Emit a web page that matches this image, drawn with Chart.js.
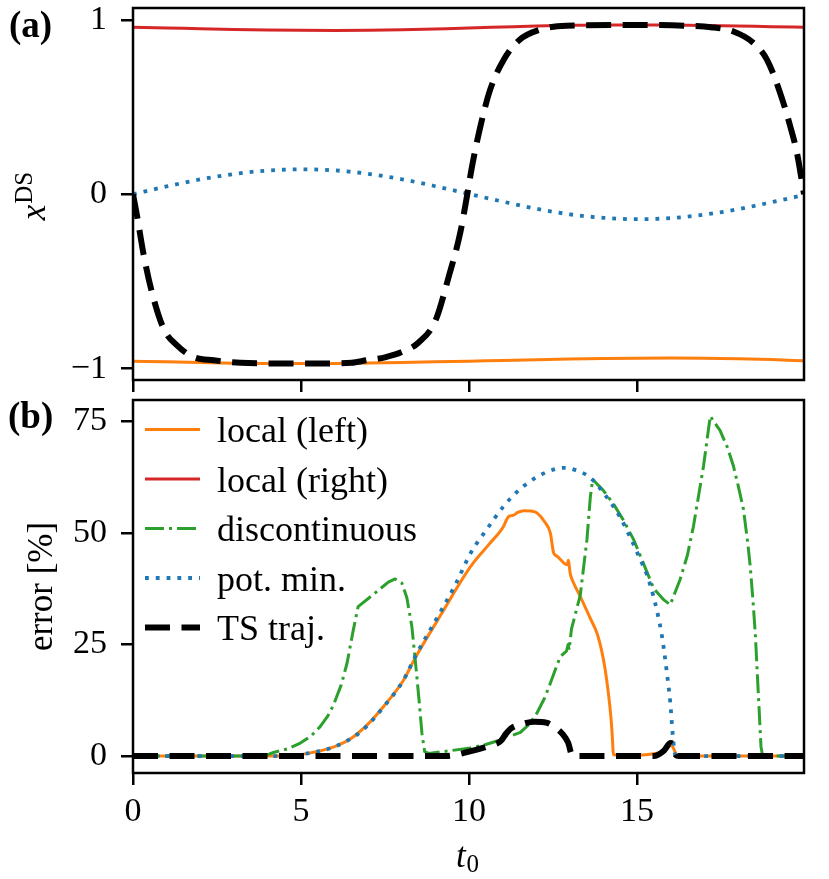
<!DOCTYPE html>
<html>
<head>
<meta charset="utf-8">
<title>x^DS and error vs t0</title>
<script src="https://cdn.jsdelivr.net/npm/chart.js@4.4.1/dist/chart.umd.min.js"></script>
<style>
    html, body { margin: 0; padding: 0; background: #fff; }
    #wrap { position: relative; width: 829px; height: 879px; overflow: hidden; }
    canvas { position: absolute; left: 0; }
    #topChart { top: 0; }
    #bottomChart { top: 390px; }
</style>
</head>
<body>
<div id="wrap">
    <canvas id="topChart" width="829" height="395"></canvas>
    <canvas id="bottomChart" width="829" height="489"></canvas>
</div>
<script>
// ---- data ----

// shared x range and tick values
const tMin = 0;
const tMax = 19.97;
const xTickValues = [0, 5, 10, 15];
const topYTicks = [-1, 0, 1];
const bottomYTicks = [0, 25, 50, 75];

// panel (a): x^DS
const tGrid = [0, 1, 2, 3, 4, 5, 6, 7, 8, 9, 10, 11, 12, 13, 14, 15, 16, 17, 18, 19, 20];
const rightTop = [0.958, 0.954, 0.949, 0.945, 0.942, 0.940, 0.939, 0.940, 0.943, 0.948, 0.953,
    0.959, 0.965, 0.969, 0.971, 0.971, 0.970, 0.968, 0.965, 0.961, 0.958];
const leftTop = [-0.958, -0.961, -0.965, -0.969, -0.971, -0.971, -0.970, -0.968, -0.965, -0.961, -0.957,
    -0.953, -0.949, -0.945, -0.942, -0.940, -0.939, -0.940, -0.943, -0.948, -0.955];
const potMinTop = [0, 0.045, 0.085, 0.116, 0.136, 0.143, 0.137, 0.117, 0.086, 0.046, 0.002,
    -0.042, -0.083, -0.115, -0.135, -0.143, -0.137, -0.117, -0.086, -0.046, -0.003];
const tsTopT = [0, 0.12, 0.32, 0.56, 0.91, 1.31, 1.8, 2.4, 3.2, 5.0,
    6.5, 6.95, 7.5, 8.0, 8.5, 9.0, 9.4, 9.74, 9.94, 10.09,
    10.34, 10.63, 11.03, 11.5, 12.1, 12.9, 15.0, 16.5, 17.2, 17.87,
    18.47, 18.87, 19.26, 19.56, 19.76, 19.97];
const tsTop = [0, -0.124, -0.35, -0.56, -0.77, -0.867, -0.933, -0.952, -0.966, -0.971,
    -0.966, -0.952, -0.935, -0.905, -0.85, -0.725, -0.47, -0.22, -0.01, 0.16,
    0.39, 0.60, 0.77, 0.885, 0.943, 0.966, 0.971, 0.966, 0.958, 0.933,
    0.867, 0.771, 0.581, 0.39, 0.238, 0.0];

// panel (b): error [%]
const leftT = [0, 4.5, 5.2, 6.0, 6.5, 7.0, 7.5, 8.05, 8.4, 9.15,
    10.05, 10.6, 11.03, 11.12, 11.2, 11.3, 11.45, 11.63, 11.85, 12.02,
    12.25, 12.42, 12.52, 12.62, 12.92, 12.96, 13.01, 13.1, 13.31, 13.6,
    13.81, 13.95, 14.05, 14.15, 14.22, 14.26, 14.3, 15.0, 15.5, 15.8,
    16.0, 16.1, 16.2, 20];
const leftErr = [0, 0, 0.6, 2.1, 4.0, 7.2, 11.5, 17, 22, 31.5,
    42.5, 47.5, 51.5, 53, 53.8, 53.9, 54.6, 55.0, 54.9, 54.5,
    52.5, 50, 45.5, 44.8, 42.9, 43.9, 41, 39, 35.8, 31,
    27.5, 23.5, 19.5, 14, 9, 5, 0.3, 0.2, 0.5, 1.2,
    2.8, 1.5, 0, 0];

const discT = [0, 3.9, 4.18, 4.6, 4.98, 5.3, 5.57, 5.8, 5.97, 6.2,
    6.37, 6.55, 6.7, 7.2, 7.6, 7.8, 8.0, 8.15, 8.3, 8.42,
    8.52, 8.6, 8.68, 8.8, 9.44, 10.04, 10.5, 10.93, 11.1, 11.2,
    11.53, 11.8, 12.02, 12.25, 12.42, 12.6, 12.72, 12.9, 12.95, 12.98,
    13.05, 13.31, 13.51, 13.61, 13.68, 14.0, 14.3, 14.6, 14.9, 15.2,
    15.5, 15.8, 15.99, 16.28, 16.5, 16.68, 16.98, 17.18, 17.3, 17.47,
    17.7, 17.87, 18.03, 18.17, 18.3, 18.37, 18.45, 18.52, 18.62, 18.69,
    18.74, 20];
const discErr = [0, 0, 0.8, 1.6, 2.9, 4.5, 6.6, 9, 11.5, 16,
    20.8, 28, 33.5, 36.5, 39, 39.7, 38.8, 35.5, 29, 20,
    12, 5, 1, 0.6, 1.2, 1.8, 2.6, 3.6, 4.7, 4.4,
    5.3, 7.2, 9.6, 13, 16.3, 20, 22.3, 23.5, 25, 23.8,
    28.5, 36, 48.5, 58, 62, 59.5, 56.5, 52.8, 48.5, 43,
    37.5, 35, 33.9, 39.5, 45, 51.5, 65, 76.2, 74.8, 73,
    69, 65, 60, 55.2, 47.5, 42.5, 35, 27.5, 12.6, 2.1,
    0, 0];

const potT = [0, 4.5, 5.2, 6.0, 6.8, 7.5, 8.05, 8.4, 9.15, 9.6,
    10.05, 10.5, 11.03, 11.4, 11.82, 12.3, 12.82, 13.2, 13.61, 14.2,
    14.5, 14.8, 15.1, 15.3, 15.5, 15.74, 15.89, 15.99, 16.06, 16.1,
    16.15, 20];
const potErr = [0, 0, 0.6, 2.1, 5.6, 11.4, 17, 22.3, 32.3, 38.5,
    45.5, 50.5, 56, 59, 61.6, 63.6, 64.6, 64, 62.4, 57,
    53.5, 49, 44, 40.5, 35.5, 27, 18.6, 12, 5.1, 2,
    0, 0];

const tsT = [0, 9.3, 10.0, 10.6, 10.95, 11.1, 11.25, 11.6, 11.95, 12.3,
    12.55, 12.8, 12.95, 13.08, 15.5, 15.8, 16.0, 16.08, 16.15, 16.25, 20];
const tsErr = [0, 0, 1, 2.3, 3.4, 5, 6.2, 7.2, 7.7, 7.5,
    6.5, 4.8, 3, 0, 0, 1.2, 2.9, 2.5, 0.3, 0, 0];

// ---- styling ----
const FONT = '"Liberation Serif", "Times New Roman", serif';
const ORANGE = '#ff7f0e';
const RED = '#d62728';
const GREEN = '#2ca02c';
const BLUE = '#1f77b4';
const BLACK = '#000000';

function pts(xs, ys) {
    return xs.map((x, i) => ({ x: x, y: ys[i] }));
}

// lower order is drawn on top in Chart.js
function lineSet(label, data, color, width, dash, order, smooth) {
    return {
        label: label,
        data: data,
        borderColor: color,
        backgroundColor: color,
        borderWidth: width,
        borderDash: dash,
        borderCapStyle: 'butt',
        borderJoinStyle: 'round',
        pointRadius: 0,
        fill: false,
        order: order,
        tension: 0,
        cubicInterpolationMode: smooth ? 'monotone' : 'default'
    };
}

const solid = [];
const dotted = [3.8, 7];
const dashDot = [19, 5, 3, 5];
const dashed = [25, 11.5];

function scales(yMin, yMax, yTicks, xHeight, xLabels) {
    const grid = {
        drawOnChartArea: false,
        drawTicks: true,
        tickLength: 12,
        tickWidth: 2.5,
        tickColor: '#000',
        color: '#000',
        lineWidth: 2.5
    };
    return {
        x: {
            type: 'linear',
            min: tMin,
            max: tMax,
            afterBuildTicks: s => { s.ticks = xTickValues.map(v => ({ value: v })); },
            afterFit: s => { s.height = xHeight; s.paddingLeft = 0; s.paddingRight = 0; },
            grid: grid,
            border: { display: false },
            ticks: {
                display: xLabels,
                autoSkip: false,
                maxRotation: 0,
                padding: 7,
                color: '#000',
                font: { family: FONT, size: 34 }
            }
        },
        y: {
            type: 'linear',
            min: yMin,
            max: yMax,
            afterBuildTicks: s => { s.ticks = yTicks.map(v => ({ value: v })); },
            afterFit: s => { s.width = 133; s.paddingTop = 0; s.paddingBottom = 0; },
            grid: grid,
            border: { display: false },
            ticks: {
                padding: 14,
                color: '#000',
                font: { family: FONT, size: 34 },
                callback: v => (v < 0 ? '\u2212' + Math.abs(v) : String(v))
            }
        }
    };
}

// full box around the plot area, like matplotlib spines
const framePlugin = {
    id: 'frame',
    afterDatasetsDraw(chart) {
        const { ctx, chartArea: a } = chart;
        ctx.save();
        ctx.strokeStyle = '#000';
        ctx.lineWidth = 2.5;
        ctx.strokeRect(a.left, a.top, a.right - a.left, a.bottom - a.top);
        ctx.restore();
    }
};

// italic symbol followed by a raised or lowered upright part
function drawScript(ctx, base, script, shift) {
    ctx.font = 'italic 35px ' + FONT;
    const w1 = ctx.measureText(base).width;
    ctx.font = '25px ' + FONT;
    const w2 = ctx.measureText(script).width;
    const start = -(w1 + 1 + w2) / 2;
    ctx.font = 'italic 35px ' + FONT;
    ctx.fillText(base, start, 0);
    ctx.font = '25px ' + FONT;
    ctx.fillText(script, start + w1 + 1, shift);
}

const topTextPlugin = {
    id: 'topText',
    afterDraw(chart) {
        const { ctx, chartArea: a } = chart;
        ctx.save();
        ctx.fillStyle = '#000';
        ctx.textBaseline = 'alphabetic';
        ctx.textAlign = 'left';
        ctx.font = 'bold 37px ' + FONT;
        ctx.fillText('(a)', 9, 37);

        ctx.translate(45, (a.top + a.bottom) / 2 + 2);
        ctx.rotate(-Math.PI / 2);
        drawScript(ctx, 'x', 'DS', -13);
        ctx.restore();
    }
};

const bottomTextPlugin = {
    id: 'bottomText',
    afterDraw(chart) {
        const { ctx, chartArea: a } = chart;
        ctx.save();
        ctx.fillStyle = '#000';
        ctx.textBaseline = 'alphabetic';
        ctx.textAlign = 'left';
        ctx.font = 'bold 37px ' + FONT;
        ctx.fillText('(b)', 8, 38);

        // legend, inside the upper left corner
        chart.data.datasets.forEach((ds, i) => {
            const base = a.top + 42 + 49.5 * i;
            const ly = base - 12.5;
            ctx.save();
            ctx.strokeStyle = ds.borderColor;
            ctx.lineWidth = ds.borderWidth;
            ctx.lineCap = 'butt';
            ctx.setLineDash(ds.borderDash);
            ctx.beginPath();
            ctx.moveTo(a.left + 12, ly);
            ctx.lineTo(a.left + 67, ly);
            ctx.stroke();
            ctx.restore();
            ctx.font = '36px ' + FONT;
            ctx.fillText(ds.label, a.left + 84, base);
        });

        // x axis title
        ctx.save();
        ctx.translate((a.left + a.right) / 2 - 1, a.bottom + 94);
        drawScript(ctx, 't', '0', 5);
        ctx.restore();

        // y axis title
        ctx.save();
        ctx.translate(52, (a.top + a.bottom) / 2);
        ctx.rotate(-Math.PI / 2);
        ctx.textAlign = 'center';
        ctx.font = '35px ' + FONT;
        ctx.fillText('error [%]', 0, 0);
        ctx.restore();

        ctx.restore();
    }
};

Chart.defaults.font.family = FONT;
Chart.defaults.color = '#000';

const topChart = new Chart(document.getElementById('topChart'), {
    type: 'line',
    data: {
        datasets: [
            lineSet('local (left)', pts(tGrid, leftTop), ORANGE, 3, solid, 5, true),
            lineSet('local (right)', pts(tGrid, rightTop), RED, 3, solid, 4, true),
            lineSet('pot. min.', pts(tGrid, potMinTop), BLUE, 3.8, dotted, 2, true),
            lineSet('TS traj.', pts(tsTopT, tsTop), BLACK, 6, dashed, 1, true)
        ]
    },
    options: {
        responsive: false,
        animation: false,
        layout: { padding: { left: 0, right: 25, top: 8, bottom: 0 } },
        scales: scales(-1.065, 1.068, topYTicks, 15, false),
        plugins: { legend: { display: false }, tooltip: { enabled: false } }
    },
    plugins: [framePlugin, topTextPlugin]
});

const bottomChart = new Chart(document.getElementById('bottomChart'), {
    type: 'line',
    data: {
        datasets: [
            lineSet('local (left)', pts(leftT, leftErr), ORANGE, 3, solid, 5, true),
            lineSet('local (right)', [], RED, 3, solid, 4, true),
            lineSet('discontinuous', pts(discT, discErr), GREEN, 3, dashDot, 3, false),
            lineSet('pot. min.', pts(potT, potErr), BLUE, 3.8, dotted, 2, true),
            lineSet('TS traj.', pts(tsT, tsErr), BLACK, 6, dashed, 1, true)
        ]
    },
    options: {
        responsive: false,
        animation: false,
        layout: { padding: { left: 0, right: 25, top: 10, bottom: 0 } },
        scales: scales(-3.8, 79.8, bottomYTicks, 106, true),
        plugins: { legend: { display: false }, tooltip: { enabled: false } }
    },
    plugins: [framePlugin, bottomTextPlugin]
});
</script>
</body>
</html>
